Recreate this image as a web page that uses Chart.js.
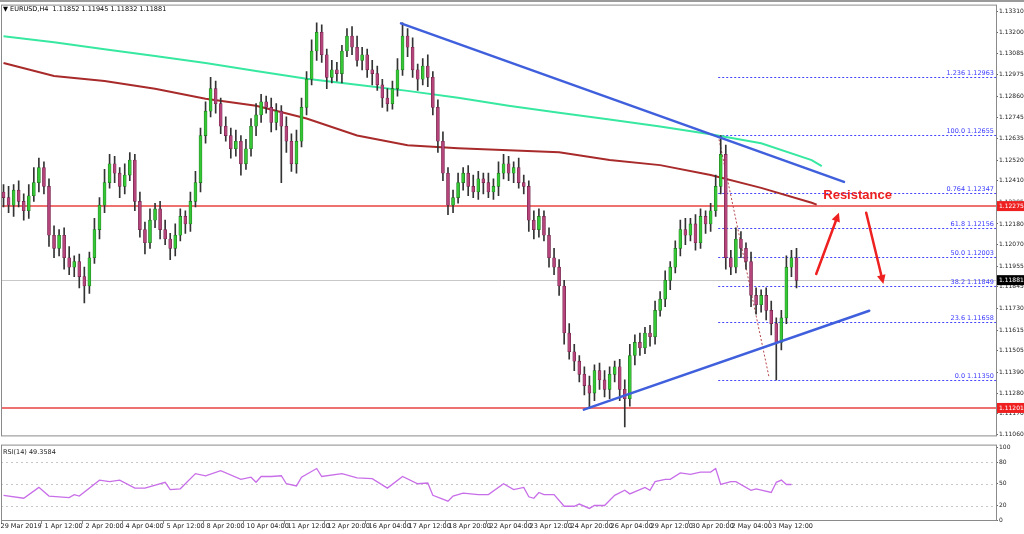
<!DOCTYPE html>
<html><head><meta charset="utf-8">
<script src="https://cdn.jsdelivr.net/npm/chart.js@4/dist/chart.umd.min.js"></script>
<style>
body{margin:0;background:#fff;width:1024px;height:534px;overflow:hidden;position:relative;font-family:"DejaVu Sans",sans-serif}
#top{position:absolute;left:0;top:0;width:1024px;height:2px;background:#9a9a9a}
#wMain{position:absolute;left:0;top:0;width:1024px;height:440px}
#wRsi{position:absolute;left:0;top:440px;width:1024px;height:94px}
</style></head><body>
<div id="top"></div>
<div id="wMain"><canvas id="cMain"></canvas></div>
<div id="wRsi"><canvas id="cRsi"></canvas></div>
<script>
var SLOTS = 197;
var firstOpen = 1.1235;
var closes = [
 1.1232,1.1228,1.1236,1.1230,1.1225,1.1233,1.1240,1.1248,1.1238,1.1212,
 1.1205,1.1212,1.1200,1.1195,1.1198,1.1190,1.1185,1.1200,1.1215,1.1228,
 1.1240,1.1250,1.1245,1.1238,1.1244,1.1252,1.1230,1.1215,1.1208,1.1220,
 1.1226,1.1215,1.1210,1.1205,1.1212,1.1222,1.1218,1.1230,1.1240,1.1265,
 1.1278,1.1290,1.1282,1.1270,1.1265,1.1258,1.1262,1.1250,1.1258,1.1270,
 1.1276,1.1283,1.1280,1.1272,1.1278,1.1270,1.1262,1.1250,1.1262,1.1280,
 1.1295,1.1310,1.1320,1.1308,1.1296,1.1300,1.1298,1.1310,1.1318,1.1312,
 1.1305,1.1308,1.1300,1.1298,1.1292,1.1285,1.1282,1.1290,1.1300,1.1318,
 1.1312,1.1300,1.1295,1.1302,1.1296,1.1280,1.1262,1.1245,1.1228,1.1232,
 1.1240,1.1245,1.1238,1.1235,1.1242,1.1240,1.1235,1.1238,1.1245,1.1250,
 1.1245,1.1248,1.1240,1.1238,1.1220,1.1215,1.1222,1.1212,1.1200,1.1195,
 1.1185,1.1160,1.1150,1.1145,1.1138,1.1132,1.1128,1.1140,1.1135,1.1130,
 1.1138,1.1142,1.1130,1.1125,1.1148,1.1155,1.1152,1.1160,1.1158,1.1172,
 1.1178,1.1188,1.1195,1.1205,1.1215,1.1212,1.1218,1.1208,1.1222,1.1218,
 1.1225,1.1238,1.1255,1.1200,1.1195,1.1210,1.1205,1.1198,1.1180,1.1175,
 1.1180,1.1172,1.1165,1.1155,1.1168,1.1195,1.1200,1.1188
];
// wick lengths in pips beyond the body
var wickUp = [
 4,6,3,5,4,6,8,5,3,4, 5,3,4,6,3,4,5,3,6,4, 7,5,4,3,6,4,3,5,4,6,
 3,4,5,3,6,4,3,5,6,4, 5,6,4,3,5,4,6,3,5,4, 6,4,3,5,4,3,5,4,6,5,
 4,6,5,4,3,5,4,3,4,5, 6,4,3,5,4,3,5,4,6,7, 4,5,3,4,6,3,4,5,3,4,
 5,3,4,6,4,3,5,4,6,5, 4,3,5,4,3,5,4,3,4,5, 4,3,5,4,3,4,5,3,4,5,
 4,3,4,5,6,4,5,3,4,5, 4,5,3,4,5,6,3,5,4,3, 4,6,10,5,4,6,4,3,5,4,
 3,4,5,3,4,6,4,5
];
var wickDn = [
 5,4,6,3,5,4,3,5,4,6, 5,4,6,4,5,6,9,4,3,5, 4,3,5,6,4,3,5,4,6,3,
 4,5,3,6,4,3,5,4,3,5, 4,3,5,4,3,5,4,6,3,4, 5,4,3,5,4,30,6,4,5,3,
 4,3,5,4,6,3,4,5,3,4, 3,5,4,6,3,5,4,3,4,3, 5,4,6,3,5,4,6,4,5,4,
 3,4,5,3,4,6,3,4,5,3, 4,5,3,4,6,5,4,3,5,4, 5,6,4,5,4,5,8,4,5,4,
 5,4,6,15,4,5,4,3,5,4, 3,4,5,3,4,5,3,4,3,5, 4,3,4,6,4,3,5,4,6,5,
 4,5,6,20,4,3,5,4
];
var maGreen = [[0,1.13178],[10,1.13147],[20,1.13110],[30,1.13073],[40,1.13036],[50,1.12994],[60,1.12952],[70,1.12920],[80,1.12888],[90,1.12852],[100,1.12809],[110,1.12772],[120,1.12736],[130,1.12699],[140,1.12657],[150,1.12609],[160,1.12520],[162,1.12488]];
var maRed = [[0,1.13036],[10,1.12967],[20,1.12941],[30,1.12899],[40,1.12846],[50,1.12809],[60,1.12741],[70,1.12651],[80,1.12599],[90,1.12583],[100,1.12572],[110,1.12562],[120,1.12520],[130,1.12493],[140,1.12440],[150,1.12372],[160,1.12293],[161,1.12283]];
var rsi = [[0,34],[4,30],[7,45],[9,33],[13,31],[14,35],[15,33],[19,55],[21,53],[23,55],[26,44],[28,44],[32,52],[33,42],[35,43],[38,64],[40,61],[43,68],[47,56],[49,59],[50,52],[51,60],[53,60],[55,61],[56,50],[58,47],[59,59],[62,71],[63,60],[67,64],[70,58],[73,57],[76,44],[79,60],[82,50],[84,51],[85,34],[88,26],[89,33],[91,37],[94,35],[96,35],[99,50],[101,42],[103,45],[104,32],[105,30],[106,38],[107,35],[109,35],[111,19],[113,19],[114,22],[116,16],[117,20],[119,20],[121,34],[123,41],[124,36],[127,45],[128,41],[129,53],[131,56],[132,56],[134,65],[136,63],[138,66],[140,66],[141,71],[142,49],[144,53],[145,53],[148,41],[149,43],[152,38],[153,52],[154,55],[155,49],[156,49]];
var priceTicks = [1.13310,1.13200,1.13085,1.12975,1.12860,1.12745,1.12635,1.12520,1.12410,1.12295,1.12180,1.12070,1.11955,1.11845,1.11730,1.11615,1.11505,1.11390,1.11280,1.11170,1.11060];
var timeLabels = ['29 Mar 2019','1 Apr 12:00','2 Apr 20:00','4 Apr 04:00','5 Apr 12:00','8 Apr 20:00','10 Apr 04:00','11 Apr 12:00','12 Apr 20:00','16 Apr 04:00','17 Apr 12:00','18 Apr 20:00','22 Apr 04:00','23 Apr 12:00','24 Apr 20:00','26 Apr 04:00','29 Apr 12:00','30 Apr 20:00','2 May 04:00','3 May 12:00'];
var fibLevels = [['1.236',1.12963],['100.0',1.12655],['0.764',1.12347],['61.8',1.12156],['50.0',1.12003],['38.2',1.11849],['23.6',1.11658],['0.0',1.11350]];
var fibStart = 141.5;
var resistanceLevel = 1.12275, supportLevel = 1.11201, lastPrice = 1.11881;
var trendDown = [[78.7,1.13247],[166.4,1.12404]];
var trendUp = [[114.9,1.11192],[171.4,1.11718]];
var fibDiag = [[141.5,1.12651],[151.6,1.11360]];
var arrowUp = [[160.9,1.11914],[165.4,1.12240]];
var arrowDn = [[170.8,1.12240],[174.2,1.11861]];
var resistText = [162.3,1.12330];

var labels = [];
for (var i=0;i<SLOTS;i++) labels.push(i);
var opens=[], bodies=[], wicks=[];
for (var i=0;i<closes.length;i++){
  var o = i===0 ? firstOpen : closes[i-1];
  var c = closes[i];
  opens.push(o);
  bodies.push([o, c]);
  wicks.push([Math.min(o,c)-wickDn[i]*0.0001, Math.max(o,c)+wickUp[i]*0.0001]);
}
function pts(a){ var d=new Array(SLOTS).fill(null); a.forEach(function(p){ d[p[0]]=p[1]; }); return d; }

var FONT = '6.5px "DejaVu Sans", sans-serif';
var AXFONT = {size:6, family:'DejaVu Sans'};

var overlay = {
  id:'overlay',
  beforeDatasetsDraw: function(ch){
    var c=ch.ctx, x=ch.scales.x, y=ch.scales.y, a=ch.chartArea;
    c.save();
    c.strokeStyle='#c8c8c8'; c.lineWidth=1;
    var ly=Math.round(y.getPixelForValue(lastPrice))+0.5;
    c.beginPath(); c.moveTo(a.left,ly); c.lineTo(a.right,ly); c.stroke();
    c.strokeStyle='#e8413f'; c.lineWidth=1.5;
    [resistanceLevel,supportLevel].forEach(function(v){
      var py=y.getPixelForValue(v);
      c.beginPath(); c.moveTo(a.left,py); c.lineTo(a.right,py); c.stroke();
    });
    c.setLineDash([2,2]); c.strokeStyle='#4646ff'; c.lineWidth=1;
    var fx=x.getPixelForValue(fibStart);
    c.font=FONT; c.fillStyle='#3b3bff'; c.textAlign='right'; c.textBaseline='bottom';
    fibLevels.forEach(function(f){
      var py=Math.round(y.getPixelForValue(f[1]))+0.5;
      c.beginPath(); c.moveTo(fx,py); c.lineTo(a.right,py); c.stroke();
      c.fillText(f[0]+' '+f[1].toFixed(5), a.right-2, py-1);
    });
    c.strokeStyle='#b5474a';
    c.beginPath(); c.moveTo(x.getPixelForValue(fibDiag[0][0]),y.getPixelForValue(fibDiag[0][1]));
    c.lineTo(x.getPixelForValue(fibDiag[1][0]),y.getPixelForValue(fibDiag[1][1])); c.stroke();
    c.setLineDash([]);
    c.restore();
  },
  afterDatasetsDraw: function(ch){
    var c=ch.ctx, x=ch.scales.x, y=ch.scales.y, a=ch.chartArea;
    function P(p){ return [x.getPixelForValue(p[0]), y.getPixelForValue(p[1])]; }
    c.save();
    c.strokeStyle='#3f5fdc'; c.lineWidth=2.5; c.lineCap='round';
    [trendDown,trendUp].forEach(function(t){
      var p0=P(t[0]), p1=P(t[1]);
      c.beginPath(); c.moveTo(p0[0],p0[1]); c.lineTo(p1[0],p1[1]); c.stroke();
    });
    c.strokeStyle='#ee2020'; c.fillStyle='#ee2020'; c.lineWidth=2.5;
    [arrowUp,arrowDn].forEach(function(t){
      var p0=P(t[0]), p1=P(t[1]);
      var ang=Math.atan2(p1[1]-p0[1],p1[0]-p0[0]);
      c.beginPath(); c.moveTo(p0[0],p0[1]); c.lineTo(p1[0]-6*Math.cos(ang),p1[1]-6*Math.sin(ang)); c.stroke();
      c.beginPath(); c.moveTo(p1[0],p1[1]);
      c.lineTo(p1[0]-10*Math.cos(ang-0.45),p1[1]-10*Math.sin(ang-0.45));
      c.lineTo(p1[0]-10*Math.cos(ang+0.45),p1[1]-10*Math.sin(ang+0.45));
      c.closePath(); c.fill();
    });
    var rt=P(resistText);
    c.font='bold 13px "Liberation Sans", Arial, sans-serif'; c.textAlign='left'; c.textBaseline='middle';
    c.fillText('Resistance', rt[0], rt[1]);
    c.strokeStyle='#8a8a8a'; c.lineWidth=1;
    c.strokeRect(a.left+0.5,a.top+0.5,a.right-a.left,a.bottom-a.top);
    c.font='6px "DejaVu Sans", sans-serif'; c.textAlign='left'; c.textBaseline='middle';
    [[resistanceLevel,'#ee2020'],[supportLevel,'#ee2020'],[lastPrice,'#000']].forEach(function(b){
      var py=y.getPixelForValue(b[0]);
      c.fillStyle=b[1]; c.fillRect(a.right+1,py-5,30,10);
      c.fillStyle='#fff'; c.fillText(b[0].toFixed(5), a.right+3, py);
    });
    c.fillStyle='#000'; c.font=FONT;
    c.fillText('\u25BC EURUSD,H4  1.11852 1.11945 1.11832 1.11881', 3, 9);
    c.restore();
  }
};

new Chart(document.getElementById('cMain'), {
  type:'bar',
  data:{ labels:labels, datasets:[
    {type:'line', data:pts(maGreen), borderColor:'#37e8a0', borderWidth:2, pointRadius:0, spanGaps:true, order:3},
    {type:'line', data:pts(maRed), borderColor:'#a82a2a', borderWidth:2, pointRadius:0, spanGaps:true, order:3},
    {data:wicks, backgroundColor:'#333', barThickness:1, grouped:false, order:2},
    {data:bodies, barThickness:3, grouped:false, order:1,
     backgroundColor:function(ctx){ var i=ctx.dataIndex; return closes[i]>=opens[i] ? '#35c735' : '#b4457a'; },
     borderColor:function(ctx){ var i=ctx.dataIndex; return closes[i]>=opens[i] ? '#1d6e1d' : '#6e2148'; },
     borderWidth:0.6, borderSkipped:false}
  ]},
  options:{
    responsive:true, maintainAspectRatio:false, animation:false,
    layout:{padding:{top:3,left:1,right:0,bottom:2}},
    plugins:{legend:{display:false}, tooltip:{enabled:false}},
    scales:{
      x:{display:false, offset:true},
      y:{position:'right', min:1.11055, max:1.13347,
         afterBuildTicks:function(s){ s.ticks=priceTicks.map(function(v){return {value:v};}); },
         afterFit:function(s){ s.width=28; },
         grid:{drawOnChartArea:false, tickLength:2, color:'#666'},
         border:{display:false},
         ticks:{font:AXFONT, color:'#222', padding:1, callback:function(v){return v.toFixed(5);}}}
    }
  },
  plugins:[overlay]
});

var rsiOverlay = {
  id:'rsiOverlay',
  beforeDatasetsDraw:function(ch){
    var c=ch.ctx, y=ch.scales.y, a=ch.chartArea;
    c.save(); c.strokeStyle='#c8c8c8'; c.setLineDash([2,3]); c.lineWidth=1;
    [20,50,80].forEach(function(v){ var py=Math.round(y.getPixelForValue(v))+0.5;
      c.beginPath(); c.moveTo(a.left,py); c.lineTo(a.right,py); c.stroke(); });
    c.restore();
  },
  afterDatasetsDraw:function(ch){
    var c=ch.ctx, x=ch.scales.x, a=ch.chartArea;
    c.save();
    c.strokeStyle='#8a8a8a'; c.lineWidth=1;
    c.strokeRect(a.left+0.5,a.top+0.5,a.right-a.left,a.bottom-a.top);
    c.font=FONT; c.fillStyle='#222'; c.textBaseline='top'; c.textAlign='left';
    c.fillText('RSI(14) 49.3584', 3, a.top+4);
    var w=x.getPixelForValue(1)-x.getPixelForValue(0);
    timeLabels.forEach(function(t,k){
      var px=Math.round(x.getPixelForValue(k*8)-w/2)+0.5;
      c.beginPath(); c.moveTo(px,a.bottom); c.lineTo(px,a.bottom+4); c.stroke();
      c.fillText(t, px+(k===0?-1:3), a.bottom+3);
    });
    c.restore();
  }
};

new Chart(document.getElementById('cRsi'), {
  type:'line',
  data:{ labels:labels, datasets:[
    {data:pts(rsi), borderColor:'#c86ee8', borderWidth:1.3, pointRadius:0, spanGaps:true, tension:0}
  ]},
  options:{
    responsive:true, maintainAspectRatio:false, animation:false,
    layout:{padding:{top:1,left:1,right:0,bottom:14}},
    plugins:{legend:{display:false}, tooltip:{enabled:false}},
    scales:{
      x:{display:false, offset:true},
      y:{position:'right', min:0, max:104,
         afterBuildTicks:function(s){ s.ticks=[0,20,50,80,100].map(function(v){return {value:v};}); },
         afterFit:function(s){ s.width=28; },
         grid:{drawOnChartArea:false, tickLength:2, color:'#666'},
         border:{display:false},
         ticks:{font:AXFONT, color:'#222', padding:1}}
    }
  },
  plugins:[rsiOverlay]
});
</script>
</body></html>
